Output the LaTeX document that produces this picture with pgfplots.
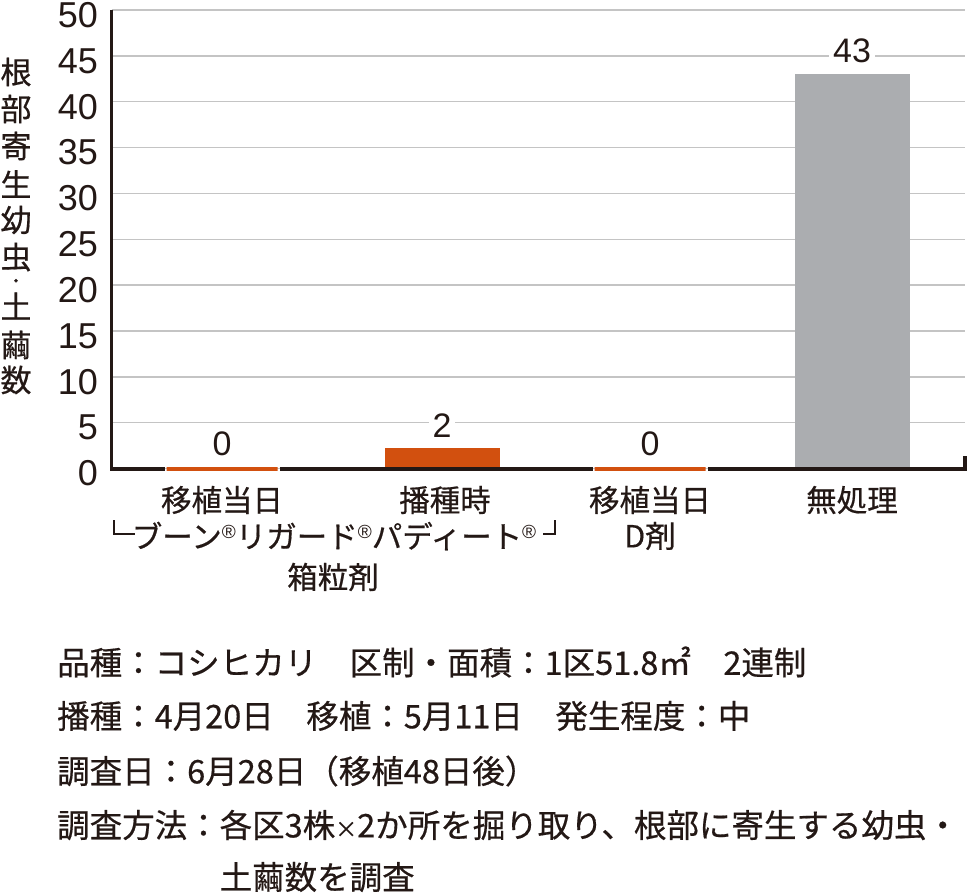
\documentclass[border=0pt]{standalone}
\usepackage{fontspec}
\usepackage{pgfplots}
\pgfplotsset{compat=1.18}
\setmainfont{Liberation Sans}
\newfontfamily\jp[FakeBold=0.5]{Noto Sans CJK JP}
\definecolor{ink}{HTML}{231815}
\definecolor{barorange}{HTML}{D2500F}
\definecolor{bargray}{HTML}{ABADB0}
\definecolor{gridgray}{HTML}{C4C4C4}
\newcommand{\reg}{{\rmfamily\fontsize{19}{19}\selectfont\raisebox{9pt}{®}}}

\begin{document}
\begin{tikzpicture}[x=1pt,y=1pt]
\useasboundingbox (0,0) rectangle (968,-892);
\begin{axis}[
    at={(111.5pt,-468.5pt)}, anchor=south west,
    scale only axis, width=853.5pt, height=458.5pt,
    clip=false,
    xmin=111.5, xmax=965, ymin=0, ymax=50,
    axis x line=none, axis y line=left,
    axis line style={-, ink, line width=3pt},
    ytick={0,5,...,50}, xtick=\empty,
    major tick length=0pt,
    ymajorgrids, grid style={gridgray, line width=1.5pt},
    /pgf/number format/assume math mode=true,
    yticklabel style={font=\fontsize{36}{36}\selectfont, text=ink,
        anchor=east, inner sep=0pt, xshift=-13.5pt, yshift=-5pt},
    ybar, bar shift=0pt,
    nodes near coords,
    every node near coord/.append style={font=\fontsize{34}{34}\selectfont,
        text=ink, fill=white, inner xsep=4pt, inner ysep=0pt,
        anchor=south, yshift=11pt},
]
% untreated
\addplot[fill=bargray, draw=none, bar width=115]
    coordinates {(852,43)};
% orange bars (zero bars show as a strip in place of the axis line)
\addplot[fill=barorange, draw=barorange, line width=4pt, bar width=111]
    coordinates {(222,0) (442,2) (650,0)};
% x axis line, left open where the zero bars lie
\draw[ink, line width=4pt] (axis cs:110,0) -- (axis cs:164.5,0)
    (axis cs:279.5,0) -- (axis cs:592.5,0)
    (axis cs:707.5,0) -- (axis cs:967,0);
\draw[ink, line width=4pt] (axis cs:965,0) -- (axis cs:965,1.4);
\end{axis}

% y label, one character per row
\foreach \c/\y/\s in {根/72/31, 部/109/31, 寄/146/31, 生/184/31, 幼/220/31, 虫/257/31, ・/283/17, 土/306/31, 繭/345/31, 数/380/31}
    \node[font=\jp\fontsize{\s}{\s}\selectfont, text=ink, inner sep=0pt] at (16,-\y) {\c};

% category labels
\begin{scope}[every node/.style={font=\jp\fontsize{30.5}{30.5}\selectfont, text=ink, inner sep=0pt}]
\node at (222,-500) {移植当日};
\node at (334,-536) {ブーン\reg リガード\reg パディート\reg};
\node at (333,-577) {箱粒剤};
\node at (445,-500) {播種時};
\node at (650,-500) {移植当日};
\node at (650,-536) {D剤};
\node at (852,-500) {無処理};
\end{scope}
\draw[ink, line width=1.3pt] (114,-520) -- (114,-534) -- (135,-534);
\draw[ink, line width=1.3pt] (555,-520) -- (555,-534) -- (543,-534);

% notes
\begin{scope}[every node/.style={font=\jp\fontsize{32.5}{32.5}\selectfont, text=ink, inner sep=0pt, anchor=west}]
\node at (57,-662) {品種：コシヒカリ　区制・面積：1区51.8㎡　2連制};
\node at (57,-716) {播種：4月20日　移植：5月11日　発生程度：中};
\node at (57,-771) {調査日：6月28日（移植48日後）};
\node at (57,-825) {調査方法：各区3株{\fontsize{22}{22}\selectfont ×}2か所を掘り取り、根部に寄生する幼虫・};
\node at (57,-877) {\phantom{調査方法：}土繭数を調査};
\end{scope}
\end{tikzpicture}
\end{document}
